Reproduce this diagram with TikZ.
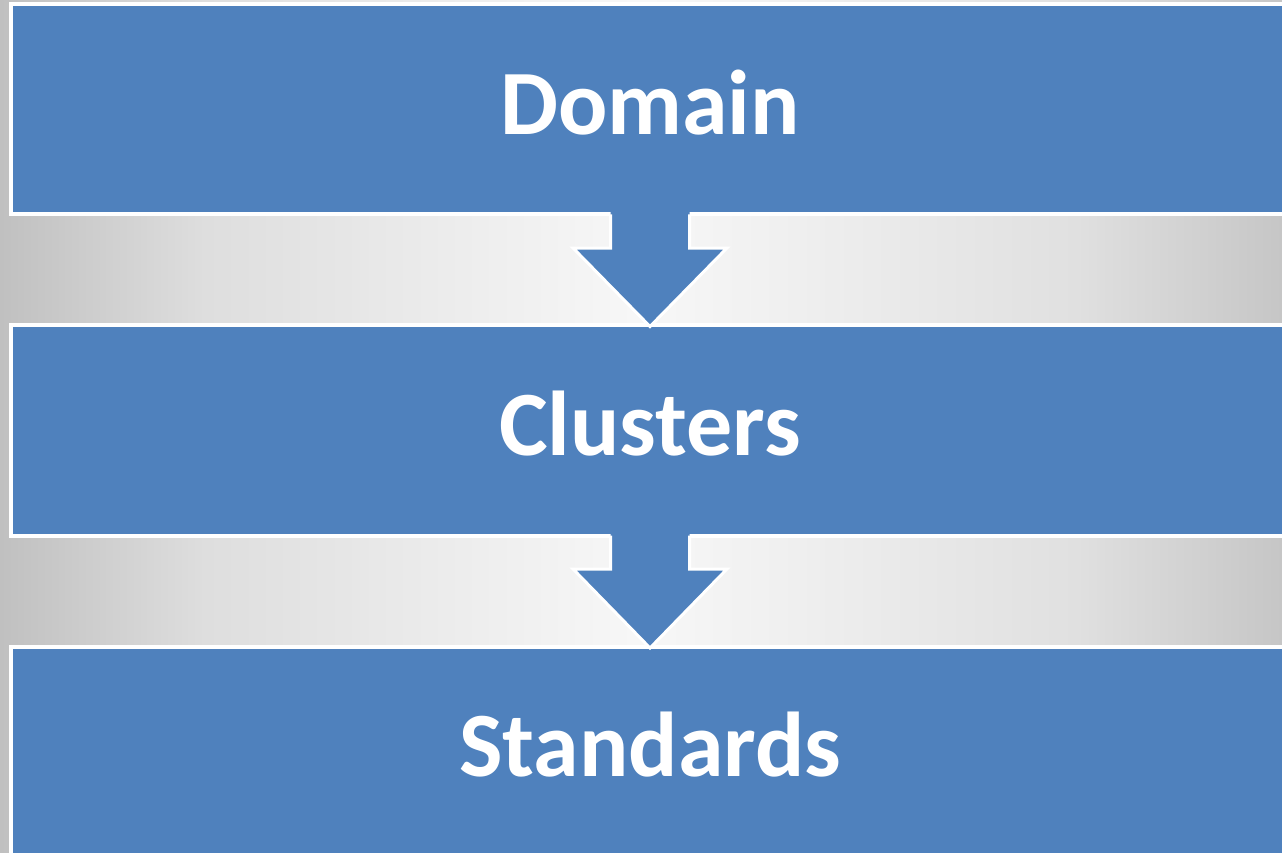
\documentclass[tikz,border=0pt]{standalone}
\usepackage{fontspec}
\setmainfont{Carlito}
\usetikzlibrary{calc}
\definecolor{boxblue}{HTML}{4F81BD}
\definecolor{edgeL}{HTML}{C0C0C0}
\definecolor{midL}{HTML}{DEDEDE}
\definecolor{midR}{HTML}{E0E0E0}
\definecolor{edgeR}{HTML}{C6C6C6}
\pgfdeclarehorizontalshading{backdrop}{100bp}{color(0bp)=(edgeL); color(25bp)=(edgeL); color(33bp)=(midL); color(50bp)=(white!97!black); color(67bp)=(midR); color(75bp)=(edgeR); color(100bp)=(edgeR)}
\begin{document}
\begin{tikzpicture}[x=1pt,y=-1pt,line join=miter,
	tier/.style={draw=white,line width=4pt,fill=boxblue,minimum width=1279pt,minimum height=210.5pt,
		inner sep=0pt,outer sep=0pt,text=white,font=\bfseries\fontsize{92}{96}\selectfont,
		text height=50pt,text depth=0pt}]
	\useasboundingbox (0,0) rectangle (1282,853);
	\clip (0,0) rectangle (1282,853);
	\shade[shading=backdrop] (0,0) rectangle (1282,853);
	% the three levels
	\node[tier] (dom) at (650,109.25) {Domain};
	\node[tier] (clu) at (650,430.25) {Clusters};
	\node[tier] (sta) at (650,751.75) {Standards};
	% block arrows between levels
	\foreach \a/\b in {dom/clu,clu/sta}{
		\fill[boxblue] ($(\a.south)+(-39.5,-4)$) -- ($(\a.south)+(-39.5,33.5)$) -- ($(\a.south)+(-77,33.5)$)
			-- ($(\b.north)+(0,1.5)$) -- ($(\a.south)+(77,33.5)$) -- ($(\a.south)+(39.5,33.5)$)
			-- ($(\a.south)+(39.5,-4)$) -- cycle;
		\draw[white,line width=3pt] ($(\a.south)+(-39.5,0)$) -- ($(\a.south)+(-39.5,33.5)$) -- ($(\a.south)+(-77,33.5)$)
			-- ($(\b.north)+(0,1.5)$) -- ($(\a.south)+(77,33.5)$) -- ($(\a.south)+(39.5,33.5)$)
			-- ($(\a.south)+(39.5,0)$);
	}
\end{tikzpicture}
\end{document}
